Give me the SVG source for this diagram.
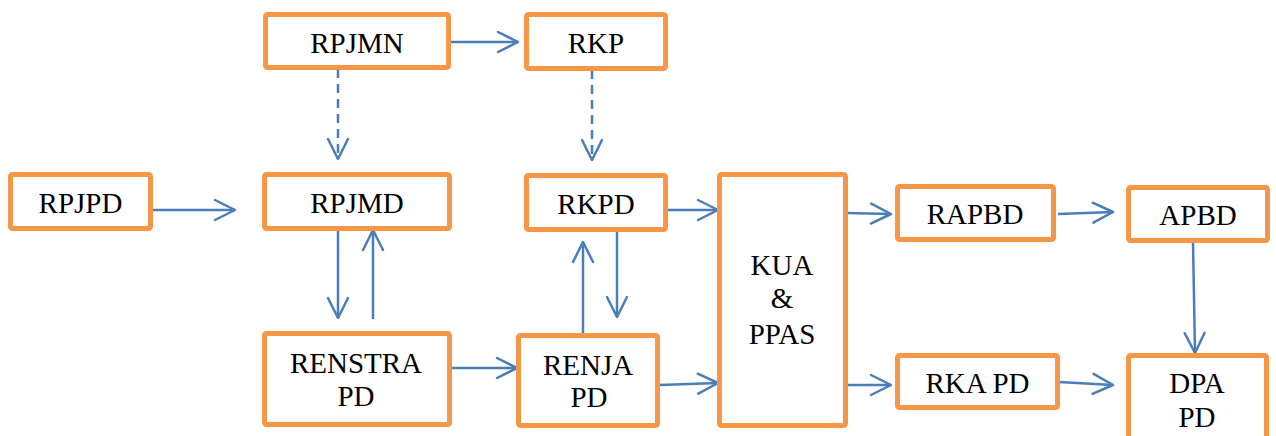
<svg xmlns="http://www.w3.org/2000/svg" width="1276" height="436" viewBox="0 0 1276 436">
<style>
.box{fill:#fff;stroke:#F79646;stroke-width:5}
.t{font-family:"Liberation Serif","Times New Roman",serif;font-size:29px;fill:#000;text-anchor:middle}
.c{fill:none;stroke:#4A7EBB;stroke-width:2.5}
.d{stroke-dasharray:9 6}
</style>
<defs>
<marker id="ah" markerUnits="userSpaceOnUse" markerWidth="24" markerHeight="24" viewBox="-2 -2 24 24" refX="20" refY="10" orient="auto" overflow="visible">
<path d="M0,0 L20,10 L0,20" fill="none" stroke="#4A7EBB" stroke-width="2.5" stroke-linejoin="round" stroke-linecap="round"/>
</marker>
</defs>
<rect width="1276" height="436" fill="#fff"/>
<g id="connectors">
<line class="c" x1="450" y1="42" x2="518" y2="42" marker-end="url(#ah)"/>
<line class="c d" x1="338" y1="69" x2="338" y2="159" marker-end="url(#ah)"/>
<line class="c d" x1="592" y1="70" x2="592" y2="160" marker-end="url(#ah)"/>
<line class="c" x1="152" y1="210" x2="235" y2="210" marker-end="url(#ah)"/>
<line class="c" x1="338" y1="231" x2="338" y2="318" marker-end="url(#ah)"/>
<line class="c" x1="373" y1="319" x2="373" y2="230" marker-end="url(#ah)"/>
<line class="c" x1="450" y1="368" x2="517" y2="368" marker-end="url(#ah)"/>
<line class="c" x1="617" y1="230" x2="617" y2="317" marker-end="url(#ah)"/>
<line class="c" x1="583" y1="333" x2="583" y2="242" marker-end="url(#ah)"/>
<line class="c" x1="666" y1="210" x2="718" y2="210" marker-end="url(#ah)"/>
<line class="c" x1="659" y1="385" x2="718" y2="383" marker-end="url(#ah)"/>
<line class="c" x1="846" y1="213" x2="891" y2="214" marker-end="url(#ah)"/>
<line class="c" x1="846" y1="385" x2="891" y2="385" marker-end="url(#ah)"/>
<line class="c" x1="1058" y1="214" x2="1113" y2="212" marker-end="url(#ah)"/>
<line class="c" x1="1193" y1="242" x2="1195" y2="353" marker-end="url(#ah)"/>
<line class="c" x1="1059" y1="382" x2="1113" y2="385" marker-end="url(#ah)"/>
</g>
<g id="RPJMN"><rect class="box" x="265.5" y="14.5" width="183" height="53" rx="2"/><text class="t" x="357" y="53">RPJMN</text></g>
<g id="RKP"><rect class="box" x="526.5" y="14.5" width="139" height="54" rx="2"/><text class="t" x="596" y="53">RKP</text></g>
<g id="RPJPD"><rect class="box" x="10.5" y="174.5" width="140" height="54" rx="2"/><text class="t" x="80.5" y="213">RPJPD</text></g>
<g id="RPJMD"><rect class="box" x="264.5" y="174.5" width="185" height="54" rx="2"/><text class="t" x="357" y="213">RPJMD</text></g>
<g id="RKPD"><rect class="box" x="526.5" y="175.5" width="139" height="54" rx="2"/><text class="t" x="596" y="214">RKPD</text></g>
<g id="KUA"><rect class="box" x="719.5" y="174.5" width="126" height="251" rx="2"/><text class="t" x="782" y="275">KUA</text><text class="t" x="782" y="308">&amp;</text><text class="t" x="782" y="344">PPAS</text></g>
<g id="RENSTRA"><rect class="box" x="264.5" y="333.5" width="185" height="91" rx="2"/><text class="t" x="356" y="373">RENSTRA</text><text class="t" x="356" y="406">PD</text></g>
<g id="RENJA"><rect class="box" x="518.5" y="335.5" width="139" height="90" rx="2"/><text class="t" x="588" y="375">RENJA</text><text class="t" x="589" y="407">PD</text></g>
<g id="RAPBD"><rect class="box" x="897.5" y="186.5" width="156" height="53" rx="2"/><text class="t" x="975" y="224">RAPBD</text></g>
<g id="APBD"><rect class="box" x="1128.5" y="187.5" width="139" height="53" rx="2"/><text class="t" x="1198" y="225">APBD</text></g>
<g id="RKAPD"><rect class="box" x="897.5" y="355.5" width="160" height="52" rx="2"/><text class="t" x="977.5" y="393">RKA PD</text></g>
<g id="DPAPD"><rect class="box" x="1128.5" y="355.5" width="138" height="95" rx="2"/><text class="t" x="1197" y="393">DPA</text><text class="t" x="1197" y="427">PD</text></g>
</svg>
